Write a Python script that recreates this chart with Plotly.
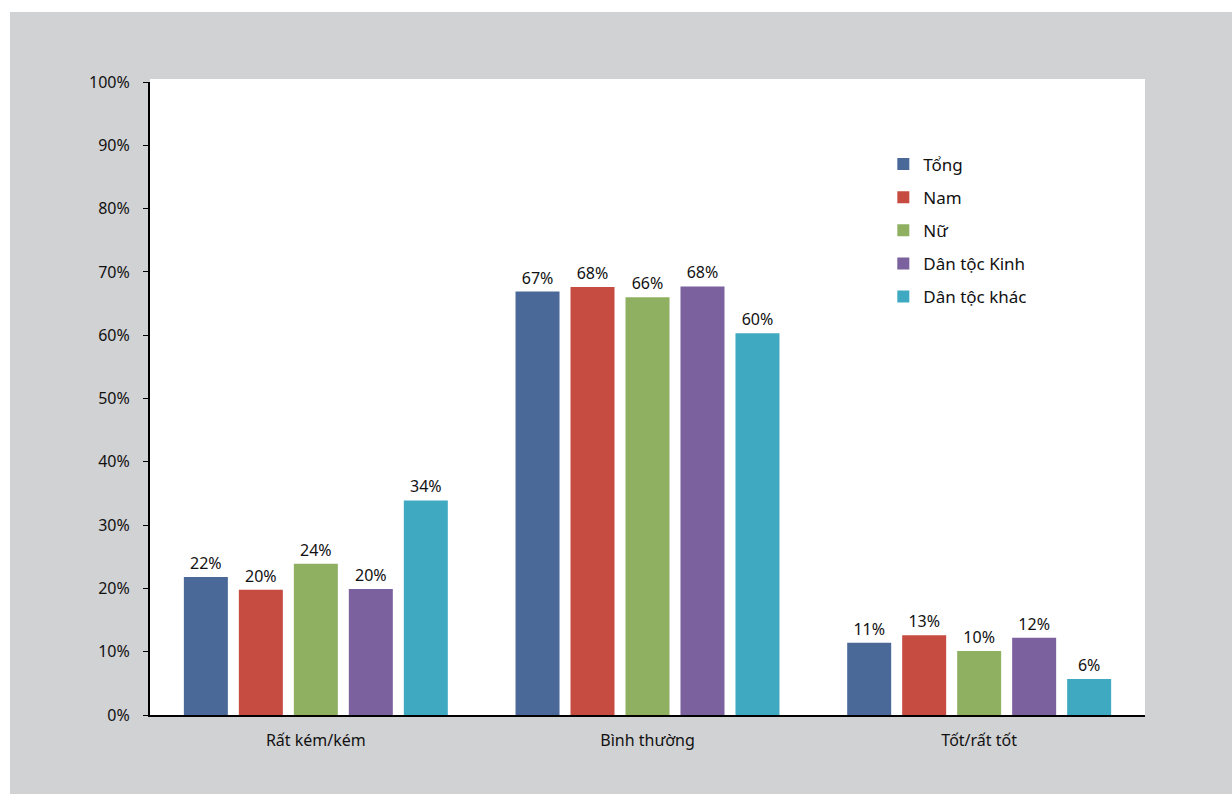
import plotly.graph_objects as go

categories = ["Rất kém/kém", "Bình thường", "Tốt/rất tốt"]
series_names = ["Tổng", "Nam", "Nữ", "Dân tộc Kinh", "Dân tộc khác"]
values = {
    "Tổng": [21.8, 66.9, 11.4],
    "Nam": [19.8, 67.6, 12.6],
    "Nữ": [23.9, 66.0, 10.1],
    "Dân tộc Kinh": [19.9, 67.7, 12.2],
    "Dân tộc khác": [33.9, 60.3, 5.7],
}
colors = ["#4A6999", "#C64B41", "#8EB060", "#7B619D", "#3EA9C1"]
y_ticks = [0, 10, 20, 30, 40, 50, 60, 70, 80, 90, 100]

W, H = 1232, 794
L, R, T, B = 150, 87, 82, 79
FONT = "Noto Sans"
GRAY = "#D1D2D4"

fig = go.Figure()
for i, name in enumerate(series_names):
    fig.add_trace(go.Bar(
        name=name,
        x=categories,
        y=values[name],
        marker=dict(color=colors[i], line=dict(width=0)),
        text=values[name],
        texttemplate="%{y:.0f}%",
        textposition="outside",
        textfont=dict(size=16, color="#111111", family=FONT),
        cliponaxis=False,
        legendgroup=name,
    ))

pw = W - L - R
ph = H - T - B


def px_x(p):
    return (p - L) / pw


def px_y(p):
    return (H - B - p) / ph


shapes = [
    # white strips framing the gray panel
    dict(type="rect", xref="paper", yref="paper", x0=px_x(0), x1=px_x(W),
         y0=px_y(12), y1=px_y(0), fillcolor="white", line_width=0, layer="below"),
    dict(type="rect", xref="paper", yref="paper", x0=px_x(0), x1=px_x(10),
         y0=px_y(H), y1=px_y(0), fillcolor="white", line_width=0, layer="below"),
    # white plotting area
    dict(type="rect", xref="paper", yref="paper", x0=0, x1=1,
         y0=0, y1=px_y(79), fillcolor="white", line_width=0, layer="below"),
]

fig.update_layout(
    width=W, height=H,
    margin=dict(l=L, r=R, t=T, b=B, pad=0),
    paper_bgcolor=GRAY,
    plot_bgcolor="rgba(0,0,0,0)",
    barmode="group",
    bargap=0.171,
    bargroupgap=0.2,
    font=dict(family=FONT, size=16, color="#111111"),
    shapes=shapes,
    showlegend=True,
    legend=dict(
        x=0.737, y=0.898, xanchor="left", yanchor="top",
        bgcolor="rgba(0,0,0,0)",
        font=dict(size=17, family=FONT, color="#111111"),
        tracegroupgap=8,
        itemclick=False,
    ),
    xaxis=dict(
        showline=True, linecolor="black", linewidth=2,
        ticks="", showgrid=False, zeroline=False,
        tickfont=dict(size=16, family=FONT, color="#111111"),
        ticklabelstandoff=10,
    ),
    yaxis=dict(
        range=[0, 100],
        tickvals=y_ticks,
        ticktext=[f"{v}%" for v in y_ticks],
        showline=True, linecolor="black", linewidth=2,
        ticks="outside", ticklen=5, tickwidth=1, tickcolor="black",
        showgrid=False, zeroline=False,
        tickfont=dict(size=16, family=FONT, color="#111111"),
        ticklabelstandoff=10,
    ),
)

fig.write_html("out.html")
